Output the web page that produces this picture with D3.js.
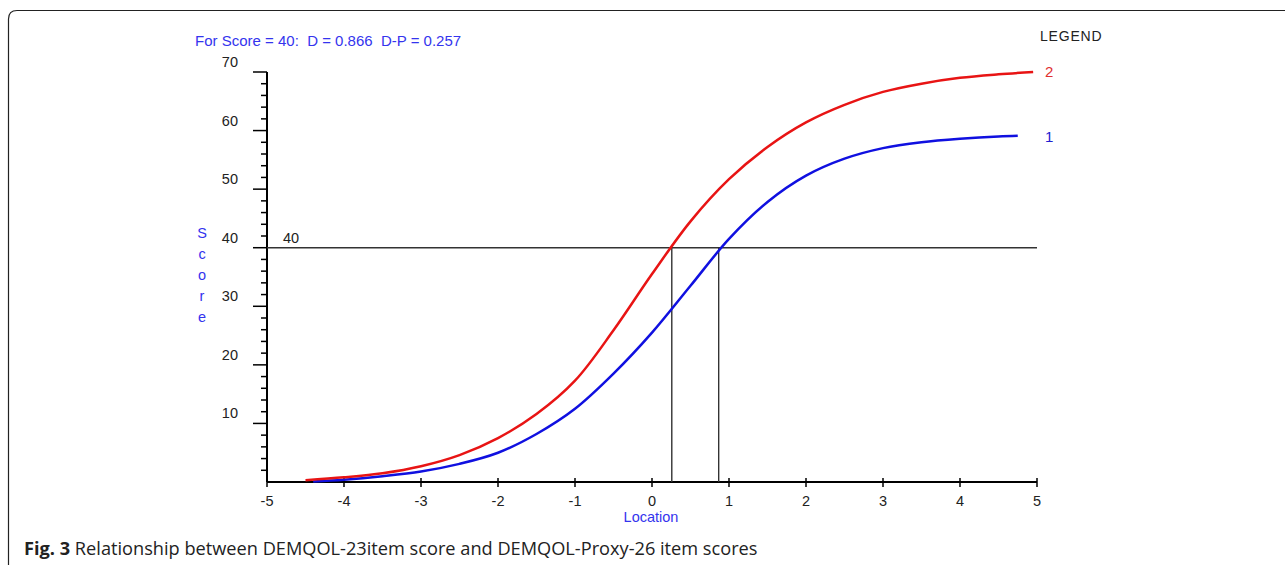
<!DOCTYPE html>
<html>
<head>
<meta charset="utf-8">
<script src="https://cdn.jsdelivr.net/npm/d3@7"></script>
<style>
  body { margin: 0; background: #fff; }
  svg { display: block; }
</style>
</head>
<body>
<svg width="1285" height="565"></svg>
<script>
// values
var series2X = [-4.5, -4, -3.5, -3, -2.5, -2, -1.5, -1, -0.5, 0, 0.5, 1, 1.5, 2, 2.5, 3, 3.5, 4, 4.5, 4.95];
var series2Y = [0.3, 0.8, 1.5, 2.7, 4.6, 7.5, 11.6, 17.3, 25.9, 35.5, 44.5, 51.7, 57.2, 61.4, 64.4, 66.6, 68, 69, 69.6, 70];
var series1X = [-4.4, -4, -3.5, -3, -2.5, -2, -1.5, -1, -0.5, 0, 0.5, 1, 1.5, 2, 2.5, 3, 3.5, 4, 4.5, 4.75];
var series1Y = [0.1, 0.4, 1, 1.8, 3.1, 5, 8.2, 12.5, 18.5, 25.5, 33.5, 41.5, 47.8, 52.3, 55.2, 57, 58, 58.6, 59, 59.1];
var xTicks = [-5, -4, -3, -2, -1, 0, 1, 2, 3, 4, 5];
var yTicks = [10, 20, 30, 40, 50, 60, 70];
var score = 40, dValue = 0.866, dpValue = 0.257;
var caption = "Relationship between DEMQOL-23item score and DEMQOL-Proxy-26 item scores";

var svg = d3.select("svg");

// figure frame
svg.append("path")
    .attr("d", "M8.5,600 L8.5,19 Q8.5,10.5 17,10.5 L1300,10.5")
    .attr("fill", "none").attr("stroke", "#222").attr("stroke-width", 1.2);

var x = d3.scaleLinear().domain([-5, 5]).range([267, 1037]);
var y = d3.scaleLinear().domain([0, 70]).range([482, 72]);

var g = svg.append("g").attr("font-family", "Liberation Sans, Arial, sans-serif");

// y axis
g.append("line").attr("x1", x(-5)).attr("x2", x(-5)).attr("y1", y(70)).attr("y2", y(0))
    .attr("stroke", "#000").attr("stroke-width", 2);
d3.range(2, 71, 2).forEach(function(v) {
    var major = v % 10 === 0;
    g.append("line").attr("x1", x(-5) - (major ? 14 : 6)).attr("x2", x(-5))
        .attr("y1", y(v)).attr("y2", y(v)).attr("stroke", "#000").attr("stroke-width", 1.5);
});
yTicks.forEach(function(v) {
    g.append("text").attr("x", 238).attr("y", y(v) - 5).attr("text-anchor", "end")
        .attr("font-size", 14.5).attr("fill", "#222").text(v);
});

// x axis
g.append("line").attr("x1", x(-5)).attr("x2", x(5)).attr("y1", y(0)).attr("y2", y(0))
    .attr("stroke", "#000").attr("stroke-width", 2);
xTicks.forEach(function(v) {
    g.append("line").attr("x1", x(v)).attr("x2", x(v)).attr("y1", y(0) - 4).attr("y2", y(0) + 5)
        .attr("stroke", "#000").attr("stroke-width", 1.5);
    g.append("text").attr("x", x(v)).attr("y", 506).attr("text-anchor", "middle")
        .attr("font-size", 14.5).attr("fill", "#222").text(v);
});

// score reference lines
g.append("line").attr("x1", x(-5)).attr("x2", x(5)).attr("y1", y(score)).attr("y2", y(score))
    .attr("stroke", "#333").attr("stroke-width", 1.4);
[dpValue, dValue].forEach(function(v) {
    g.append("line").attr("x1", x(v)).attr("x2", x(v)).attr("y1", y(score)).attr("y2", y(0))
        .attr("stroke", "#333").attr("stroke-width", 1.4);
});
g.append("text").attr("x", 283).attr("y", y(score) - 5).attr("font-size", 14.5)
    .attr("fill", "#222").text(score);

// curves
var line = d3.line().curve(d3.curveCatmullRom.alpha(0.5))
    .x(function(d) { return x(d[0]); })
    .y(function(d) { return y(d[1]); });
g.append("path").datum(d3.zip(series1X, series1Y)).attr("d", line)
    .attr("fill", "none").attr("stroke", "#1010e0").attr("stroke-width", 2.5);
g.append("path").datum(d3.zip(series2X, series2Y)).attr("d", line)
    .attr("fill", "none").attr("stroke", "#e81414").attr("stroke-width", 2.5);

// legend
g.append("text").attr("x", 1040).attr("y", 41).attr("font-size", 14).attr("letter-spacing", 0.8)
    .attr("fill", "#222").text("LEGEND");
g.append("text").attr("x", 1045).attr("y", y(70) + 5).attr("font-size", 15).attr("fill", "#e03030").text("2");
g.append("text").attr("x", 1045).attr("y", y(59.1) + 6).attr("font-size", 15).attr("fill", "#2020d0").text("1");

// header
g.append("text").attr("x", 195).attr("y", 46).attr("font-size", 15).attr("fill", "#3434ee")
    .attr("xml:space", "preserve")
    .text("For Score = " + score + ":  D = " + dValue + "  D-P = " + dpValue);

// axis titles
"Score".split("").forEach(function(c, i) {
    g.append("text").attr("x", 202).attr("y", 238 + i * 21).attr("text-anchor", "middle")
        .attr("font-size", 14.5).attr("fill", "#3434ee").text(c);
});
g.append("text").attr("x", 651).attr("y", 522).attr("text-anchor", "middle")
    .attr("font-size", 14.5).attr("fill", "#3434ee").text("Location");

// caption
var cap = svg.append("text").attr("x", 24).attr("y", 555)
    .attr("font-family", "Open Sans, sans-serif").attr("font-size", 18.2).attr("fill", "#222");
cap.append("tspan").attr("font-weight", "bold").text("Fig. 3");
cap.append("tspan").text(" " + caption);
</script>
</body>
</html>
